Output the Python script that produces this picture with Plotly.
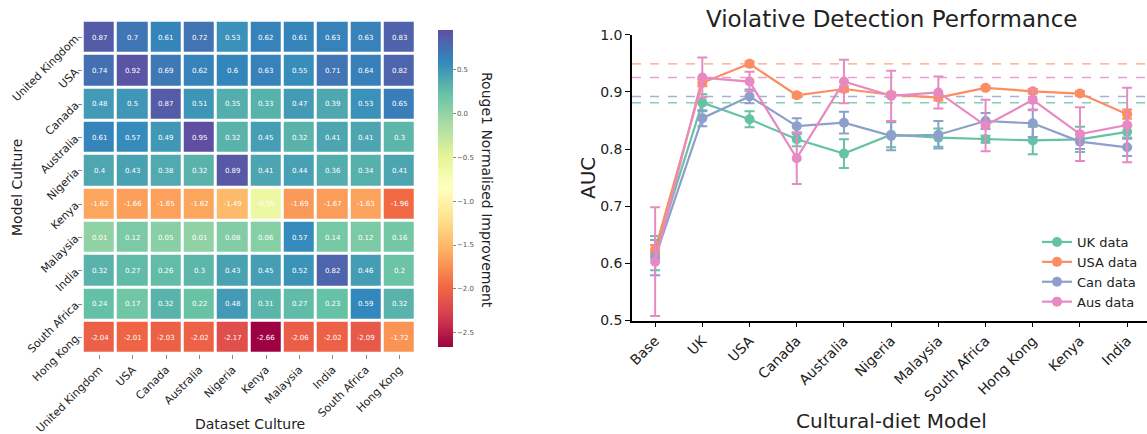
import plotly.graph_objects as go

# ---------------- Heatmap data ----------------
cultures = ["United Kingdom", "USA", "Canada", "Australia", "Nigeria", "Kenya",
            "Malaysia", "India", "South Africa", "Hong Kong"]
row_uk = [0.87, 0.7, 0.61, 0.72, 0.53, 0.62, 0.61, 0.63, 0.63, 0.83]
row_usa = [0.74, 0.92, 0.69, 0.62, 0.6, 0.63, 0.55, 0.71, 0.64, 0.82]
row_canada = [0.48, 0.5, 0.87, 0.51, 0.35, 0.33, 0.47, 0.39, 0.53, 0.65]
row_australia = [0.61, 0.57, 0.49, 0.95, 0.32, 0.45, 0.32, 0.41, 0.41, 0.3]
row_nigeria = [0.4, 0.43, 0.38, 0.32, 0.89, 0.41, 0.44, 0.36, 0.34, 0.41]
row_kenya = [-1.62, -1.66, -1.65, -1.62, -1.49, -0.59, -1.69, -1.67, -1.63, -1.96]
row_malaysia = [0.01, 0.12, 0.05, 0.01, 0.08, 0.06, 0.57, 0.14, 0.12, 0.16]
row_india = [0.32, 0.27, 0.26, 0.3, 0.43, 0.45, 0.52, 0.82, 0.46, 0.2]
row_south_africa = [0.24, 0.17, 0.32, 0.22, 0.48, 0.31, 0.27, 0.23, 0.59, 0.32]
row_hong_kong = [-2.04, -2.01, -2.03, -2.02, -2.17, -2.66, -2.06, -2.02, -2.09, -1.72]
heat_rows = [row_uk, row_usa, row_canada, row_australia, row_nigeria, row_kenya,
             row_malaysia, row_india, row_south_africa, row_hong_kong]
cbar_ticks = [0.5, 0.0, -0.5, -1.0, -1.5, -2.0, -2.5]

# ---------------- Line chart data ----------------
models = ["Base", "UK", "USA", "Canada", "Australia", "Nigeria", "Malaysia",
          "South Africa", "Hong Kong", "Kenya", "India"]
uk_auc = [0.618, 0.881, 0.852, 0.817, 0.792, 0.825, 0.820, 0.817, 0.815, 0.817, 0.830]
uk_err = [0.030, 0.015, 0.014, 0.012, 0.025, 0.022, 0.016, 0.006, 0.024, 0.022, 0.010]
usa_auc = [0.624, 0.916, 0.949, 0.894, 0.905, 0.895, 0.890, 0.907, 0.901, 0.897, 0.861]
usa_err = [0.008, 0.006, 0.004, 0.004, 0.005, 0.004, 0.005, 0.003, 0.004, 0.004, 0.008]
can_auc = [0.610, 0.854, 0.892, 0.840, 0.846, 0.823, 0.825, 0.849, 0.845, 0.813, 0.803]
can_err = [0.031, 0.014, 0.012, 0.014, 0.019, 0.025, 0.024, 0.014, 0.024, 0.013, 0.015]
aus_auc = [0.603, 0.925, 0.918, 0.784, 0.918, 0.893, 0.899, 0.841, 0.886, 0.826, 0.842]
aus_err = [0.095, 0.035, 0.017, 0.045, 0.038, 0.044, 0.028, 0.045, 0.018, 0.047, 0.065]
series_names = ["UK data", "USA data", "Can data", "Aus data"]
series_colors = ["#66c2a5", "#fc8d62", "#8da0cb", "#e78ac3"]
best_lines = [0.881, 0.949, 0.892, 0.925]
y_ticks = [0.5, 0.6, 0.7, 0.8, 0.9, 1.0]

spectral = ["#9e0142", "#d53e4f", "#f46d43", "#fdae61", "#fee08b", "#ffffbf",
            "#e6f598", "#abdda4", "#66c2a5", "#3288bd", "#5e4fa2"]
colorscale = [[i / (len(spectral) - 1), c] for i, c in enumerate(spectral)]

FONT = "DejaVu Sans"
W, H = 1147, 434

fig = go.Figure()

text = [["%g" % v for v in r] for r in heat_rows]
zmin = min(min(r) for r in heat_rows)
zmax = max(max(r) for r in heat_rows)

fig.add_trace(go.Heatmap(
    z=heat_rows, x=cultures, y=cultures, text=text, texttemplate="%{text}",
    textfont=dict(family=FONT, size=7, color="white"),
    colorscale=colorscale, zmin=zmin, zmax=zmax, xgap=3, ygap=3,
    xaxis="x", yaxis="y", hoverinfo="skip",
    colorbar=dict(
        x=438 / W, xanchor="left", xpad=0, ypad=0,
        y=1 - 188.4 / H, yanchor="middle",
        len=316.7 / H, lenmode="fraction", thickness=15,
        outlinewidth=0, tickvals=cbar_ticks,
        ticktext=[("%.1f" % t).replace("-", "\u2212") for t in cbar_ticks],
        ticks="outside", ticklen=3, tickcolor="#888",
        tickfont=dict(family=FONT, size=7, color="#555"),
    ),
))

for name, col, vals, errs in zip(series_names, series_colors,
                                 [uk_auc, usa_auc, can_auc, aus_auc],
                                 [uk_err, usa_err, can_err, aus_err]):
    fig.add_trace(go.Scatter(
        x=models, y=vals, name=name, mode="lines+markers",
        line=dict(color=col, width=2.2), marker=dict(color=col, size=10),
        error_y=dict(type="data", array=errs, visible=True, color=col,
                     thickness=2, width=5),
        xaxis="x2", yaxis="y2",
    ))

for col, v in zip(series_colors, best_lines):
    fig.add_shape(type="line", xref="x2 domain", yref="y2", x0=0, x1=1,
                  y0=v, y1=v, line=dict(color=col, width=1.4, dash="dash"),
                  opacity=0.8, layer="below")

fig.update_layout(
    width=W, height=H, margin=dict(l=0, r=0, t=0, b=0, autoexpand=False),
    paper_bgcolor="white", plot_bgcolor="white",
    font=dict(family=FONT, color="#222"),
    showlegend=True,
    legend=dict(x=1037 / W, y=1 - 227 / H, xanchor="left", yanchor="top",
                itemwidth=30,
                font=dict(family=FONT, size=13, color="#222"),
                bgcolor="rgba(255,255,255,0)", tracegroupgap=0),
    xaxis=dict(domain=[82.7 / W, 416 / W], tickangle=-45, showgrid=False,
               zeroline=False, ticks="outside", ticklen=4, tickcolor="#888",
               automargin=False,
               tickfont=dict(family=FONT, size=11, color="#222"),
               anchor="y"),
    yaxis=dict(domain=[1 - 354 / H, 1 - 20.7 / H], autorange="reversed",
               tickangle=-45, showgrid=False, zeroline=False, ticks="outside",
               ticklen=4, tickcolor="#888", automargin=False,
               tickfont=dict(family=FONT, size=11, color="#222"),
               anchor="x"),
    xaxis2=dict(domain=[632 / W, 1.0], range=[-0.49, 10.42], tickangle=-45,
                showgrid=False, zeroline=False, showline=True, linecolor="black",
                linewidth=1.5, ticks="outside", ticklen=5, tickcolor="black",
                automargin=False,
                tickfont=dict(family=FONT, size=14, color="#222"),
                anchor="y2"),
    yaxis2=dict(domain=[1 - 320.5 / H, 1 - 34.7 / H], range=[0.5, 1.0],
                tickvals=y_ticks, ticktext=["%.1f" % t for t in y_ticks],
                showgrid=False, zeroline=False, showline=True, linecolor="black",
                linewidth=1.5, ticks="outside", ticklen=5, tickcolor="black",
                automargin=False,
                tickfont=dict(family=FONT, size=14, color="#222"),
                anchor="x2"),
    annotations=[
        dict(text="Violative Detection Performance", x=891 / W, y=1 - 19 / H,
             xref="paper", yref="paper", showarrow=False, xanchor="center",
             yanchor="middle", font=dict(family=FONT, size=23, color="#222")),
        dict(text="Rouge1 Normalised Improvement", x=487 / W, y=1 - 190 / H,
             xref="paper", yref="paper", showarrow=False, textangle=90,
             xanchor="center", yanchor="middle",
             font=dict(family=FONT, size=14, color="#222")),
        dict(text="Dataset Culture", x=250 / W, y=1 - 424 / H,
             xref="paper", yref="paper", showarrow=False,
             xanchor="center", yanchor="middle",
             font=dict(family=FONT, size=14, color="#222")),
        dict(text="Model Culture", x=17 / W, y=1 - 188 / H,
             xref="paper", yref="paper", showarrow=False, textangle=-90,
             xanchor="center", yanchor="middle",
             font=dict(family=FONT, size=14, color="#222")),
        dict(text="Cultural-diet Model", x=891 / W, y=1 - 421 / H,
             xref="paper", yref="paper", showarrow=False,
             xanchor="center", yanchor="middle",
             font=dict(family=FONT, size=20, color="#222")),
        dict(text="AUC", x=588 / W, y=1 - 178 / H,
             xref="paper", yref="paper", showarrow=False, textangle=-90,
             xanchor="center", yanchor="middle",
             font=dict(family=FONT, size=20, color="#222")),
    ],
)

fig.write_html("out.html", config={"displayModeBar": False},
               post_script="document.body.style.margin='0';document.body.style.overflow='hidden';")
